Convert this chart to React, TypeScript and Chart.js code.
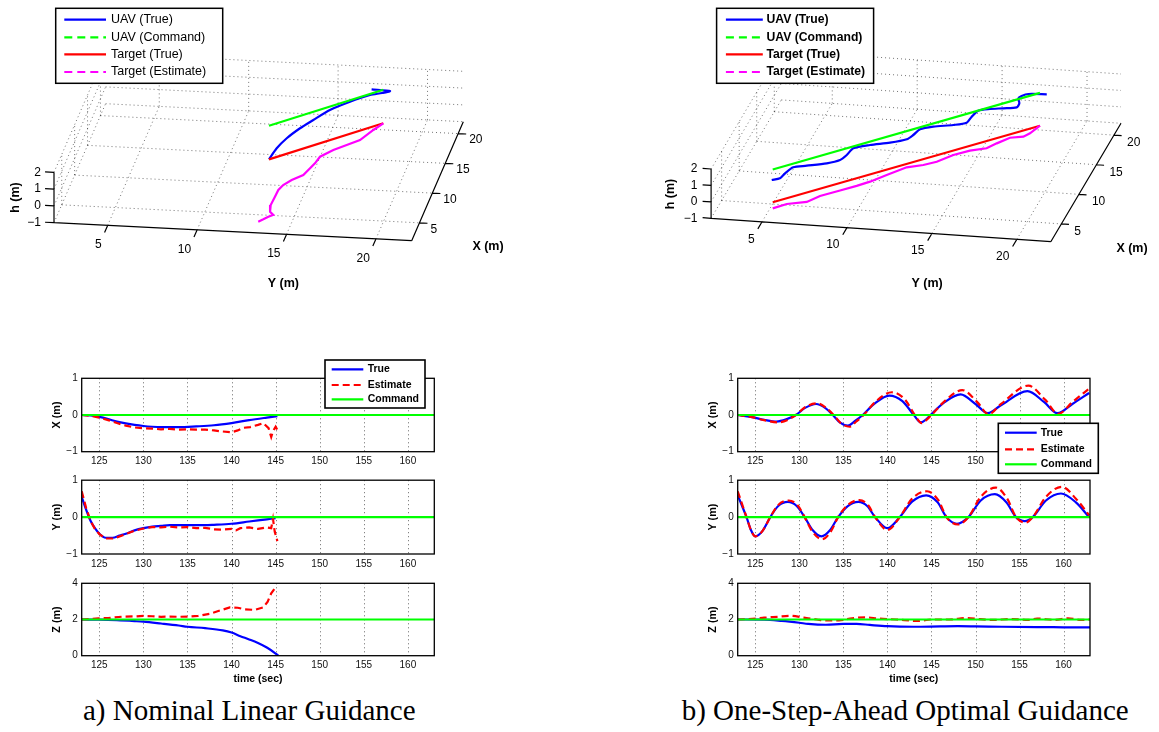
import React, { useEffect, useRef } from "react";
import { Chart, registerables } from "chart.js";
Chart.register(...registerables);

const FONT = "'Liberation Sans', Arial, Helvetica, sans-serif";
const BLUE = "#0000ff";
const RED = "#ff0000";
const GREEN = "#00ff00";
const MAGENTA = "#ff00ff";

// ---------- 2D time histories ----------
const TIME_RANGE = [123, 163];
const TIME_TICKS = [125, 130, 135, 140, 145, 150, 155, 160];
const ERR_TICKS = [-1, 0, 1];
const ALT_TICKS = [0, 2, 4];
const LEGEND_2D = ["True", "Estimate", "Command"];

type Pt = [number, number];

// a) Nominal Linear Guidance
const L_X_TRUE: Pt[] = [[123, 0], [124, -0.01], [125, -0.05], [126, -0.11], [127, -0.18], [128, -0.23], [129, -0.27], [130, -0.3], [131, -0.32], [132, -0.33], [134, -0.33], [136, -0.31], [138, -0.28], [140, -0.22], [142, -0.14], [144, -0.07], [145.2, -0.03]];
const L_X_EST: Pt[] = [[123, 0], [124, -0.02], [125, -0.07], [126, -0.14], [127, -0.22], [128, -0.29], [129, -0.34], [130, -0.36], [131, -0.37], [132, -0.39], [133, -0.38], [134, -0.4], [135, -0.39], [136, -0.4], [137, -0.4], [138, -0.42], [139, -0.45], [140, -0.47], [140.7, -0.42], [141.3, -0.35], [142.1, -0.33], [143, -0.27], [143.6, -0.22], [144.2, -0.36], [144.5, -0.6], [144.7, -0.44], [145, -0.32], [145.2, -0.41]];
const L_X_CMD: Pt[] = [[123, 0], [163, 0]];

const L_Y_TRUE: Pt[] = [[123, 0.55], [123.5, 0.2], [124, -0.1], [124.5, -0.3], [125, -0.45], [125.7, -0.56], [126.5, -0.56], [127.3, -0.5], [128, -0.45], [129, -0.36], [130, -0.3], [131, -0.26], [132, -0.24], [133, -0.22], [135, -0.22], [137, -0.22], [138, -0.21], [140, -0.18], [142, -0.12], [144, -0.06], [145, -0.03]];
const L_Y_EST: Pt[] = [[123, 0.7], [123.5, 0.25], [124, -0.1], [124.5, -0.32], [125, -0.46], [125.7, -0.58], [126.5, -0.58], [127, -0.55], [128, -0.46], [129, -0.37], [130, -0.31], [131, -0.27], [132, -0.28], [133, -0.26], [134, -0.28], [135, -0.27], [136, -0.3], [137, -0.29], [138, -0.33], [139, -0.34], [140, -0.32], [140.5, -0.36], [141, -0.3], [142, -0.28], [143, -0.32], [144, -0.28], [144.5, -0.3], [144.7, -0.05], [144.9, -0.4], [145.2, -0.65]];
const L_Y_CMD: Pt[] = [[123, 0], [163, 0]];

const L_Z_TRUE: Pt[] = [[123, 2], [125, 1.99], [127, 1.96], [129, 1.91], [130, 1.88], [132, 1.78], [134, 1.67], [135, 1.6], [137, 1.52], [139, 1.4], [140, 1.28], [141, 1.08], [142, 0.9], [143, 0.7], [144, 0.45], [145, 0.12], [145.3, 0]];
const L_Z_EST: Pt[] = [[123, 2], [124.9, 2.06], [126, 2.08], [127.7, 2.16], [129, 2.17], [130, 2.2], [131, 2.18], [132, 2.15], [133, 2.16], [134, 2.15], [135.1, 2.16], [136.2, 2.2], [137.5, 2.31], [138.9, 2.53], [139.8, 2.67], [140.7, 2.65], [141.5, 2.56], [142.6, 2.53], [143.6, 2.67], [144.1, 2.99], [144.5, 3.45], [145, 3.78]];
const L_Z_CMD: Pt[] = [[123, 2], [163, 2]];

// b) One-Step-Ahead Optimal Guidance
const R_X_TRUE: Pt[] = [[123, 0], [124.5, -0.05], [126, -0.13], [127.4, -0.18], [128.5, -0.12], [129.6, 0], [130.7, 0.2], [131.9, 0.3], [133, 0.18], [133.8, 0], [134.6, -0.2], [135.5, -0.29], [136.4, -0.15], [137.2, 0], [138.5, 0.3], [140.2, 0.53], [141.7, 0.38], [143, 0], [143.8, -0.2], [144.4, -0.12], [144.9, 0], [146.5, 0.35], [148.3, 0.56], [150, 0.3], [151.4, 0.05], [152.8, 0.25], [155.9, 0.65], [157.8, 0.35], [159.3, 0.05], [161, 0.3], [162.9, 0.6]];
const R_X_EST: Pt[] = [[123, 0], [124.5, -0.05], [126, -0.14], [127.6, -0.2], [128.7, -0.13], [129.6, 0], [130.7, 0.22], [132, 0.32], [133.1, 0.18], [133.9, 0], [134.7, -0.22], [135.7, -0.32], [136.5, -0.17], [137.3, 0], [138.6, 0.35], [140.5, 0.62], [142, 0.42], [143.1, 0], [143.9, -0.22], [144.5, -0.12], [145, 0], [146.6, 0.4], [148.5, 0.68], [150.2, 0.35], [151.5, 0.02], [152.9, 0.3], [156, 0.8], [157.9, 0.42], [159.4, 0.03], [161, 0.35], [162.9, 0.72]];
const R_X_CMD: Pt[] = [[123, 0], [163, 0]];

const R_Y_TRUE: Pt[] = [[123, 0.59], [123.5, 0.3], [124, 0], [124.5, -0.35], [125, -0.52], [125.8, -0.38], [126.7, 0], [127.6, 0.3], [128.7, 0.41], [129.7, 0.3], [130.6, 0], [131.5, -0.35], [132.5, -0.52], [133.5, -0.35], [134.4, 0], [135.5, 0.3], [136.7, 0.41], [137.7, 0.3], [138.6, 0], [140, -0.3], [141.4, 0], [142.8, 0.42], [144.4, 0.59], [145.7, 0.4], [146.7, 0], [147.9, -0.18], [149.2, 0], [150.6, 0.45], [152.2, 0.62], [153.5, 0.4], [154.6, 0], [155.6, -0.11], [156.5, 0], [158, 0.45], [159.7, 0.64], [161.4, 0.4], [162.9, 0]];
const R_Y_EST: Pt[] = [[123, 0.7], [123.5, 0.35], [124, 0], [124.5, -0.35], [125, -0.52], [125.8, -0.38], [126.7, 0], [127.6, 0.33], [128.8, 0.45], [129.8, 0.32], [130.6, 0], [131.5, -0.4], [132.6, -0.6], [133.6, -0.38], [134.4, 0], [135.5, 0.33], [136.8, 0.46], [137.8, 0.33], [138.6, 0], [140, -0.35], [141.4, 0], [142.8, 0.5], [144.5, 0.7], [145.8, 0.45], [146.7, 0], [148, -0.2], [149.2, 0], [150.6, 0.55], [152.3, 0.8], [153.6, 0.5], [154.6, 0], [155.7, -0.15], [156.5, 0], [158, 0.55], [159.8, 0.82], [161.4, 0.5], [162.9, 0.05]];
const R_Y_CMD: Pt[] = [[123, 0], [163, 0]];

const R_Z_TRUE: Pt[] = [[123, 2], [126, 1.99], [128, 1.92], [130, 1.82], [131, 1.76], [133, 1.71], [135, 1.76], [136.5, 1.76], [138, 1.7], [140, 1.63], [143, 1.6], [146, 1.62], [148, 1.63], [150, 1.62], [153, 1.6], [157, 1.58], [160, 1.57], [163, 1.56]];
const R_Z_EST: Pt[] = [[123, 2], [125, 2.05], [126, 2.1], [127.5, 2.15], [129, 2.2], [130.5, 2.1], [132, 2.0], [133, 1.95], [134.5, 1.95], [136, 2.07], [137.5, 2.12], [139, 2.05], [141, 2.0], [143.5, 1.92], [145, 2.0], [147, 2.0], [149, 2.08], [150.5, 2.02], [152, 1.98], [154, 2.02], [156, 1.98], [157, 2.05], [159, 1.98], [160.5, 2.06], [162, 1.98], [163, 2.0]];
const R_Z_CMD: Pt[] = [[123, 2], [163, 2]];

// ---------- 3D trajectories ----------
const AX3_X = [2, 22];
const AX3_Y = [2, 22];
const AX3_H = [-1, 2];
const TICKS3_X = [5, 10, 15, 20];
const TICKS3_Y = [5, 10, 15, 20];
const TICKS3_H = [-1, 0, 1, 2];
const LEGEND_3D = ["UAV (True)", "UAV (Command)", "Target (True)", "Target (Estimate)"];

const L3_UAV_X = [18.28, 18.15, 17.76, 17.41, 16.42, 15.36, 14.05, 12.99, 12.56, 12.07, 11.44];
const L3_UAV_Y = [17.41, 18.46, 18.07, 17.45, 16.47, 15.5, 14.76, 14.17, 13.49, 13.0, 12.66];
const L3_UAV_H = [2.0, 2.0, 2.0, 1.97, 1.87, 1.7, 1.53, 1.38, 0.9, 0.45, 0];
const L3_CMD_X = [18.31, 11.44];
const L3_CMD_Y = [18.06, 12.66];
const L3_CMD_H = [2, 2];
const L3_TGT_X = [18.31, 11.44];
const L3_TGT_Y = [18.06, 12.66];
const L3_TGT_H = [0, 0];
const L3_EST_X = [18.31, 17.71, 16.91, 16.11, 15.3, 14.5, 14.2, 13.9, 13.5, 12.81, 12.3, 12.0, 11.8, 11.54, 11.5, 11.7, 11.4, 11.1, 10.8];
const L3_EST_Y = [18.06, 17.59, 16.96, 16.33, 15.7, 15.07, 14.83, 14.6, 14.28, 13.73, 13.33, 13.1, 12.94, 12.74, 12.71, 12.86, 12.63, 12.39, 12.15];
const L3_EST_H = [0, -0.21, -0.56, -0.61, -0.65, -0.8, -1.1, -1.3, -1.58, -1.66, -1.8, -2.0, -2.34, -2.75, -3.14, -3.39, -3.4, -3.46, -3.51];

const R3_UAV_X = [17.88, 17.77, 17.4, 16.99, 16.22, 15.56, 15.39, 15.39, 15.2, 14.2, 13.17, 12.6, 12.26, 11.79, 10.82, 10.08, 9.34, 8.69, 7.97, 6.83, 5.97, 5.34, 4.75, 4.4, 3.33, 2.46, 2.09];
const R3_UAV_Y = [18.48, 17.42, 17.1, 16.99, 17.21, 17.19, 16.44, 15.65, 15.0, 14.82, 14.74, 14.07, 12.96, 12.28, 12.08, 11.85, 11.02, 9.97, 9.14, 8.99, 8.77, 8.12, 7.06, 6.34, 6.08, 5.96, 5.55];
const R3_UAV_H = [2.0, 1.98, 1.97, 1.97, 1.96, 1.95, 1.9, 1.8, 1.72, 1.7, 1.7, 1.72, 1.66, 1.62, 1.61, 1.6, 1.6, 1.62, 1.62, 1.61, 1.6, 1.58, 1.57, 1.55, 1.55, 1.55, 1.55];
const R3_CMD_X = [18.04, 2.62];
const R3_CMD_Y = [18.05, 5.5];
const R3_CMD_H = [2, 2];
const R3_TGT_X = [18.04, 2.62];
const R3_TGT_Y = [18.05, 5.5];
const R3_TGT_H = [0, 0];
const R3_EST_X = [18.04, 17.46, 17.08, 16.31, 15.54, 14.96, 14.0, 13.04, 12.08, 11.31, 10.35, 9.2, 8.23, 7.47, 6.51, 5.35, 4.58, 3.43, 2.62];
const R3_EST_Y = [18.05, 17.58, 17.27, 16.64, 16.02, 15.54, 14.76, 13.98, 13.2, 12.57, 11.79, 10.85, 10.07, 9.44, 8.66, 7.72, 7.1, 6.16, 5.5];
const R3_EST_H = [0, -0.29, -0.38, -0.21, -0.32, -0.44, -0.3, -0.27, -0.39, -0.36, -0.21, -0.33, -0.44, -0.47, -0.46, -0.44, -0.57, -0.35, -0.37];

function fmtTick(v: number) {
  return v < 0 ? "\u2212" + Math.abs(v) : String(v);
}

// ---------- 2D subplot ----------
type Series = { pts: Pt[]; color: string; dash?: number[]; smooth?: boolean; order: number };
type Legend2D = { box: [number, number, number, number]; rows: number[]; sx: [number, number]; tx: number };
type P2 = {
  left: number; top: number; width: number; height: number;
  yMin: number; yMax: number; yTicks: number[]; yTitle: string; xTitle?: string;
  series: Series[]; legend?: Legend2D; z: number;
};

function Plot2D(p: P2) {
  const ref = useRef<HTMLCanvasElement | null>(null);
  const padL = 72, padT = 26, padR = 16, padB = 38;
  const cl = Math.floor(p.left - padL);
  const ct = Math.floor(p.top - padT);
  const cw = Math.ceil(p.left + p.width + padR) - cl;
  const ch = Math.ceil(p.top + p.height + padB) - ct;
  const aL = p.left - cl;
  const aT = p.top - ct;
  const aR = cl + cw - (p.left + p.width);
  const aB = ct + ch - (p.top + p.height);

  useEffect(() => {
    const deco = {
      id: "deco2d",
      beforeDatasetsDraw(chart: any) {
        const { ctx, chartArea: a, scales } = chart;
        ctx.save();
        ctx.strokeStyle = "rgba(0,0,0,0.6)";
        ctx.lineWidth = 1;
        ctx.setLineDash([1, 3]);
        for (const t of TIME_TICKS) {
          const x = Math.round(scales.x.getPixelForValue(t)) + 0.5;
          ctx.beginPath();
          ctx.moveTo(x, a.top);
          ctx.lineTo(x, a.bottom);
          ctx.stroke();
        }
        ctx.restore();
      },
      afterDatasetsDraw(chart: any) {
        const { ctx, chartArea: a } = chart;
        ctx.save();
        ctx.setLineDash([]);
        ctx.strokeStyle = "#000";
        ctx.lineWidth = 1.3;
        ctx.strokeRect(a.left, a.top, a.right - a.left, a.bottom - a.top);
        ctx.fillStyle = "#000";
        ctx.textAlign = "center";
        ctx.textBaseline = "middle";
        ctx.font = `bold 10.8px ${FONT}`;
        ctx.save();
        ctx.translate(a.left - 25, (a.top + a.bottom) / 2);
        ctx.rotate(-Math.PI / 2);
        ctx.fillText(p.yTitle, 0, 0);
        ctx.restore();
        if (p.xTitle) {
          ctx.font = `bold 10.5px ${FONT}`;
          ctx.fillText(p.xTitle, (a.left + a.right) / 2, a.bottom + 23);
        }
        if (p.legend) {
          const L = p.legend;
          const [bx, by, bw, bh] = L.box;
          ctx.fillStyle = "#fff";
          ctx.fillRect(bx - cl, by - ct, bw, bh);
          ctx.strokeStyle = "#000";
          ctx.lineWidth = 1.6;
          ctx.strokeRect(bx - cl, by - ct, bw, bh);
          p.series.forEach((s, i) => {
            const y = L.rows[i] - ct;
            ctx.strokeStyle = s.color;
            ctx.lineWidth = 2.2;
            ctx.setLineDash(s.dash || []);
            ctx.beginPath();
            ctx.moveTo(L.sx[0] - cl, y);
            ctx.lineTo(L.sx[1] - cl, y);
            ctx.stroke();
            ctx.setLineDash([]);
            ctx.fillStyle = "#000";
            ctx.font = `bold 10.5px ${FONT}`;
            ctx.textAlign = "left";
            ctx.fillText(LEGEND_2D[i], L.tx - cl, y);
          });
        }
        ctx.restore();
      },
    };

    const chart = new Chart(ref.current as HTMLCanvasElement, {
      type: "scatter",
      data: {
        datasets: p.series.map((s, i) => ({
          label: LEGEND_2D[i],
          data: s.pts.map(([x, y]) => ({ x, y })),
          showLine: true,
          borderColor: s.color,
          borderWidth: 2.2,
          borderDash: s.dash || [],
          pointRadius: 0,
          pointHoverRadius: 0,
          fill: false,
          tension: 0,
          cubicInterpolationMode: s.smooth ? "monotone" : "default",
          order: s.order,
        })),
      } as any,
      options: {
        animation: false,
        responsive: false,
        events: [],
        layout: { padding: { left: 0, top: aT, right: aR, bottom: 0 } },
        plugins: { legend: { display: false }, tooltip: { enabled: false } },
        scales: {
          x: {
            type: "linear",
            bounds: "data",
            min: TIME_RANGE[0],
            max: TIME_RANGE[1],
            afterBuildTicks: (s: any) => { s.ticks = TIME_TICKS.map((v) => ({ value: v })); },
            afterFit: (s: any) => { s.height = aB; },
            grid: { display: false, drawTicks: false },
            border: { display: false },
            ticks: { color: "#111", font: { family: FONT, size: 10 }, padding: 4, maxRotation: 0, autoSkip: false, callback: (v: any) => fmtTick(Number(v)) },
          },
          y: {
            type: "linear",
            bounds: "data",
            min: p.yMin,
            max: p.yMax,
            afterBuildTicks: (s: any) => { s.ticks = p.yTicks.map((v) => ({ value: v })); },
            afterFit: (s: any) => { s.width = aL; },
            grid: { display: false, drawTicks: false },
            border: { display: false },
            ticks: { color: "#111", font: { family: FONT, size: 10 }, padding: 4, autoSkip: false, callback: (v: any) => fmtTick(Number(v)) },
          },
        },
      } as any,
      plugins: [deco],
    });
    return () => chart.destroy();
  }, []);

  return (
    <canvas
      ref={ref}
      width={cw}
      height={ch}
      style={{ position: "absolute", left: cl, top: ct, width: cw, height: ch, zIndex: p.z }}
    />
  );
}

// ---------- 3D subplot (orthographic projection onto a linear/linear chart) ----------
type View = {
  ox: number; oy: number; ex: [number, number]; ey: [number, number]; eh: number;
  yLab: [number, number]; xLab: [number, number]; hLab: [number, number];
  tY: [number, number]; tX: [number, number]; tH: [number, number];
};
type Legend3D = { box: [number, number, number, number]; rows: number[]; sx: [number, number]; tx: number; font: string };
type Traj = { X: number[]; Y: number[]; H: number[] };
type P3 = { left: number; top: number; width: number; height: number; view: View; uav: Traj; cmd: Traj; tgt: Traj; est: Traj; legend: Legend3D };

function proj(v: View, X: number, Y: number, H: number) {
  const dx = X - AX3_X[0], dy = Y - AX3_Y[0], dh = H - AX3_H[0];
  return { x: v.ox + dx * v.ex[0] + dy * v.ey[0], y: v.oy + dx * v.ex[1] + dy * v.ey[1] - dh * v.eh };
}

type Seg = [[number, number, number], [number, number, number]];
function gridSegs(): Seg[] {
  const s: Seg[] = [];
  const [x0, x1] = AX3_X, [y0, y1] = AX3_Y, [h0, h1] = AX3_H;
  for (const xt of TICKS3_X) s.push([[xt, y0, h0], [xt, y1, h0]]);
  for (const yt of TICKS3_Y) s.push([[x0, yt, h0], [x1, yt, h0]]);
  for (const ht of TICKS3_H) s.push([[x1, y0, ht], [x1, y1, ht]]);
  for (const yt of TICKS3_Y) s.push([[x1, yt, h0], [x1, yt, h1]]);
  for (const ht of TICKS3_H) s.push([[x0, y0, ht], [x1, y0, ht]]);
  for (const xt of TICKS3_X) s.push([[xt, y0, h0], [xt, y0, h1]]);
  return s;
}
function axisSegs(): Seg[] {
  const s: Seg[] = [];
  const [x0, x1] = AX3_X, [y0, y1] = AX3_Y, [h0, h1] = AX3_H;
  s.push([[x0, y0, h0], [x0, y1, h0]]);
  s.push([[x0, y1, h0], [x1, y1, h0]]);
  s.push([[x0, y0, h0], [x0, y0, h1]]);
  for (const yt of TICKS3_Y) s.push([[x0, yt, h0], [x0 - 1.2, yt, h0]]);
  for (const xt of TICKS3_X) s.push([[xt, y1, h0], [xt, y1 + 0.45, h0]]);
  for (const ht of TICKS3_H) s.push([[x0, y0, ht], [x0, y0 - 0.5, ht]]);
  return s;
}

function Plot3D(p: P3) {
  const ref = useRef<HTMLCanvasElement | null>(null);
  useEffect(() => {
    const v = p.view;
    const segData = (segs: Seg[]) => {
      const out: { x: number; y: number }[] = [];
      for (const [a, b] of segs) {
        out.push(proj(v, a[0], a[1], a[2]), proj(v, b[0], b[1], b[2]), { x: NaN, y: NaN });
      }
      return out;
    };
    const traj = (t: Traj) => t.X.map((x, i) => proj(v, x, t.Y[i], t.H[i]));
    const base = { showLine: true, pointRadius: 0, pointHoverRadius: 0, fill: false, spanGaps: false };
    const styles = [
      { color: BLUE, dash: [] as number[] },
      { color: GREEN, dash: [8, 5] },
      { color: RED, dash: [] as number[] },
      { color: MAGENTA, dash: [8, 5] },
    ];

    const deco = {
      id: "deco3d",
      afterDatasetsDraw(chart: any) {
        const { ctx, scales } = chart;
        const px = (pt: { x: number; y: number }) => ({ x: scales.x.getPixelForValue(pt.x), y: scales.y.getPixelForValue(pt.y) });
        ctx.save();
        ctx.fillStyle = "#000";
        ctx.font = `12px ${FONT}`;
        ctx.textBaseline = "middle";
        ctx.textAlign = "right";
        for (const yt of TICKS3_Y) {
          const q = px(proj(v, AX3_X[0], yt, AX3_H[0]));
          ctx.fillText(fmtTick(yt), q.x + v.yLab[0], q.y + v.yLab[1]);
        }
        for (const ht of TICKS3_H) {
          const q = px(proj(v, AX3_X[0], AX3_Y[0], ht));
          ctx.fillText(fmtTick(ht), q.x + v.hLab[0], q.y + v.hLab[1]);
        }
        ctx.textAlign = "left";
        for (const xt of TICKS3_X) {
          const q = px(proj(v, xt, AX3_Y[1], AX3_H[0]));
          ctx.fillText(fmtTick(xt), q.x + v.xLab[0], q.y + v.xLab[1]);
        }
        ctx.font = `bold 12.5px ${FONT}`;
        ctx.textAlign = "center";
        ctx.fillText("Y (m)", v.tY[0], v.tY[1]);
        ctx.fillText("X (m)", v.tX[0], v.tX[1]);
        ctx.save();
        ctx.translate(v.tH[0], v.tH[1]);
        ctx.rotate(-Math.PI / 2);
        ctx.fillText("h (m)", 0, 0);
        ctx.restore();

        const L = p.legend;
        const [bx, by, bw, bh] = L.box;
        ctx.fillStyle = "#fff";
        ctx.fillRect(bx, by, bw, bh);
        ctx.strokeStyle = "#000";
        ctx.lineWidth = 1.5;
        ctx.strokeRect(bx, by, bw, bh);
        ctx.textAlign = "left";
        ctx.font = L.font;
        styles.forEach((s, i) => {
          const y = L.rows[i];
          ctx.strokeStyle = s.color;
          ctx.lineWidth = 2.2;
          ctx.setLineDash(s.dash);
          ctx.beginPath();
          ctx.moveTo(L.sx[0], y);
          ctx.lineTo(L.sx[1], y);
          ctx.stroke();
          ctx.setLineDash([]);
          ctx.fillStyle = "#000";
          ctx.fillText(LEGEND_3D[i], L.tx, y);
        });
        ctx.restore();
      },
    };

    const chart = new Chart(ref.current as HTMLCanvasElement, {
      type: "scatter",
      data: {
        datasets: [
          { ...base, label: "grid", data: segData(gridSegs()), borderColor: "rgba(0,0,0,0.55)", borderWidth: 1, borderDash: [1, 3], order: 10 },
          { ...base, label: "axes", data: segData(axisSegs()), borderColor: "#000", borderWidth: 1.2, order: 9 },
          { ...base, label: LEGEND_3D[0], data: traj(p.uav), borderColor: BLUE, borderWidth: 2.2, tension: 0.25, order: 3 },
          { ...base, label: LEGEND_3D[1], data: traj(p.cmd), borderColor: GREEN, borderWidth: 2.2, order: 2 },
          { ...base, label: LEGEND_3D[2], data: traj(p.tgt), borderColor: RED, borderWidth: 2.2, order: 1 },
          { ...base, label: LEGEND_3D[3], data: traj(p.est), borderColor: MAGENTA, borderWidth: 2.2, tension: 0, order: 0 },
        ],
      } as any,
      options: {
        animation: false,
        responsive: false,
        events: [],
        layout: { padding: 0 },
        plugins: { legend: { display: false }, tooltip: { enabled: false } },
        scales: {
          x: { type: "linear", display: false, min: 0, max: p.width },
          y: { type: "linear", display: false, min: 0, max: p.height, reverse: true },
        },
      } as any,
      plugins: [deco],
    });
    return () => chart.destroy();
  }, []);
  return (
    <canvas
      ref={ref}
      width={p.width}
      height={p.height}
      style={{ position: "absolute", left: p.left, top: p.top, width: p.width, height: p.height }}
    />
  );
}

const VIEW_L: View = {
  ox: 54, oy: 222.7, ex: [2.58, -5.95], ey: [17.885, 0.9], eh: 16.8,
  yLab: [-6, 19.5], xLab: [11, 6.5], hLab: [-13, 0],
  tY: [283.3, 284], tX: [488, 246.7], tH: [15.3, 197.5],
};
const VIEW_R: View = {
  ox: 131.1, oy: 218.3, ex: [3.51, -5.92], ey: [16.985, 1.17], eh: 16.43,
  yLab: [-7.5, 17.5], xLab: [13, 7.5], hLab: [-13.6, 0],
  tY: [347.1, 283.3], tX: [552, 248.3], tH: [91, 194],
};
const LEG3_L: Legend3D = { box: [55.7, 8.3, 167, 75], rows: [19.7, 37.3, 54.3, 72], sx: [64.3, 106], tx: 111, font: `12.5px ${FONT}` };
const LEG3_R: Legend3D = { box: [136.6, 8.3, 157, 75], rows: [19.7, 37.3, 54.3, 72], sx: [145.9, 182.8], tx: 186.5, font: `bold 12.2px ${FONT}` };

const LEG2_L: Legend2D = { box: [325, 360, 100, 48], rows: [369.3, 385, 399.3], sx: [331.7, 363.3], tx: 367.7 };
const LEG2_R: Legend2D = { box: [998.3, 423.3, 100, 50], rows: [432.7, 449.3, 464.3], sx: [1005, 1036.7], tx: 1040.7 };

function mkSeries(t: Pt[], e: Pt[], c: Pt[], smoothEst: boolean): Series[] {
  return [
    { pts: t, color: BLUE, smooth: true, order: 2 },
    { pts: e, color: RED, dash: [7, 4], smooth: smoothEst, order: 1 },
    { pts: c, color: GREEN, order: 0 },
  ];
}

const COL_L = { left: 81.7, width: 352.6 };
const COL_R = { left: 737.7, width: 352.3 };
const ROW_X = { top: 378.3, height: 73.4 };
const ROW_Y = { top: 480.2, height: 73.8 };
const ROW_Z = { top: 583.3, height: 72.4 };

export default function App() {
  const capStyle: React.CSSProperties = {
    position: "absolute",
    top: 696.4,
    font: "29px 'Liberation Serif', 'Times New Roman', serif",
    lineHeight: "29px",
    whiteSpace: "nowrap",
    color: "#000",
  };
  return (
    <div style={{ position: "absolute", left: 0, top: 0, width: 1159, height: 732, background: "#fff", overflow: "hidden" }}>
      <Plot3D left={0} top={0} width={578} height={300} view={VIEW_L}
        uav={{ X: L3_UAV_X, Y: L3_UAV_Y, H: L3_UAV_H }} cmd={{ X: L3_CMD_X, Y: L3_CMD_Y, H: L3_CMD_H }}
        tgt={{ X: L3_TGT_X, Y: L3_TGT_Y, H: L3_TGT_H }} est={{ X: L3_EST_X, Y: L3_EST_Y, H: L3_EST_H }} legend={LEG3_L} />
      <Plot3D left={580} top={0} width={579} height={300} view={VIEW_R}
        uav={{ X: R3_UAV_X, Y: R3_UAV_Y, H: R3_UAV_H }} cmd={{ X: R3_CMD_X, Y: R3_CMD_Y, H: R3_CMD_H }}
        tgt={{ X: R3_TGT_X, Y: R3_TGT_Y, H: R3_TGT_H }} est={{ X: R3_EST_X, Y: R3_EST_Y, H: R3_EST_H }} legend={LEG3_R} />

      <Plot2D {...COL_L} {...ROW_Z} z={1} yMin={0} yMax={4} yTicks={ALT_TICKS} yTitle="Z (m)" xTitle="time (sec)" series={mkSeries(L_Z_TRUE, L_Z_EST, L_Z_CMD, false)} />
      <Plot2D {...COL_L} {...ROW_Y} z={2} yMin={-1} yMax={1} yTicks={ERR_TICKS} yTitle="Y (m)" series={mkSeries(L_Y_TRUE, L_Y_EST, L_Y_CMD, false)} />
      <Plot2D {...COL_L} {...ROW_X} z={3} yMin={-1} yMax={1} yTicks={ERR_TICKS} yTitle="X (m)" series={mkSeries(L_X_TRUE, L_X_EST, L_X_CMD, false)} legend={LEG2_L} />

      <Plot2D {...COL_R} {...ROW_Z} z={1} yMin={0} yMax={4} yTicks={ALT_TICKS} yTitle="Z (m)" xTitle="time (sec)" series={mkSeries(R_Z_TRUE, R_Z_EST, R_Z_CMD, true)} />
      <Plot2D {...COL_R} {...ROW_Y} z={2} yMin={-1} yMax={1} yTicks={ERR_TICKS} yTitle="Y (m)" series={mkSeries(R_Y_TRUE, R_Y_EST, R_Y_CMD, true)} />
      <Plot2D {...COL_R} {...ROW_X} z={3} yMin={-1} yMax={1} yTicks={ERR_TICKS} yTitle="X (m)" series={mkSeries(R_X_TRUE, R_X_EST, R_X_CMD, true)} legend={LEG2_R} />

      <div style={{ ...capStyle, left: 83 }}>a) Nominal Linear Guidance</div>
      <div style={{ ...capStyle, left: 681.7 }}>b) One-Step-Ahead Optimal Guidance</div>
    </div>
  );
}
